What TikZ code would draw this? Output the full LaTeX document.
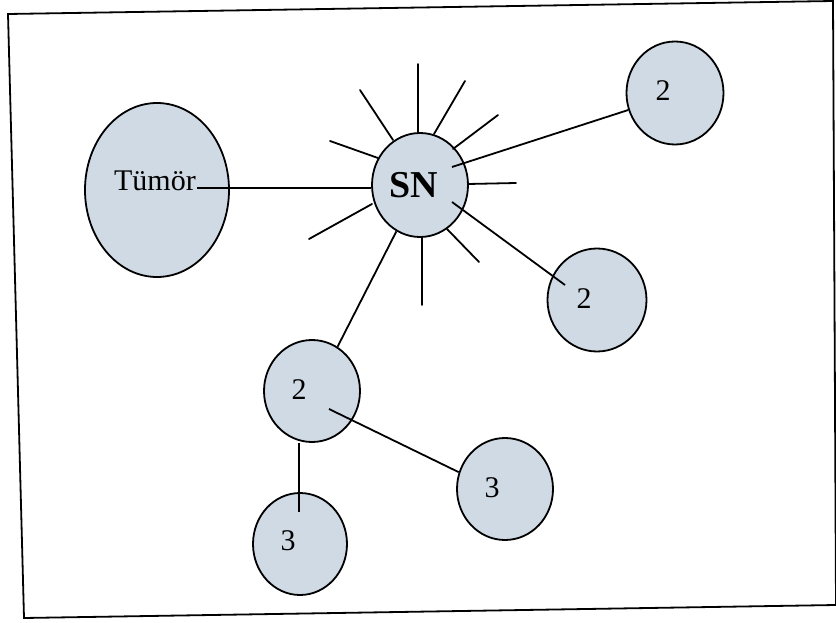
\documentclass[tikz,border=0pt]{standalone}
\usepackage{fontspec}
\setmainfont{Liberation Serif}
\usetikzlibrary{shapes.geometric,calc}
\definecolor{cellfill}{RGB}{208,218,229}
\tikzset{
  cell/.style={ellipse, draw=black, line width=1.8pt, fill=cellfill, inner sep=0pt},
  lbl/.style={font=\fontsize{30}{32}\selectfont, inner sep=0pt},
  ray/.style={line width=1.8pt, line cap=round},
  link/.style={line width=1.8pt},
}
\begin{document}
\begin{tikzpicture}[x=1pt,y=-1pt]
\useasboundingbox (0,0) rectangle (836,623);
% frame
\draw[line width=1.8pt] (8,14) -- (833,1) -- (836,605) -- (24,618) -- cycle;

% nodes
\node[cell, minimum width=144pt, minimum height=174pt] (tumor) at (157,190) {};
\node[cell, minimum width=96pt, minimum height=104pt] (sn) at (420,185) {};
\node[cell, minimum width=97pt, minimum height=103pt] (n2a) at (675,93) {};
\node[cell, minimum width=99pt, minimum height=103pt] (n2b) at (597,300) {};
\node[cell, minimum width=96pt, minimum height=102pt] (n2c) at (312,391) {};
\node[cell, minimum width=96pt, minimum height=102pt] (n3a) at (505,489) {};
\node[cell, minimum width=94pt, minimum height=102pt] (n3b) at (300,544) {};

% labels
\node[lbl, anchor=base east] (tumortxt) at (196,190) {Tümör};
\node[lbl, font=\fontsize{38}{40}\selectfont\bfseries] (sntxt) at (414,185) {SN};
\node[lbl] (t2a) at (663,91) {2};
\node[lbl] (t2b) at (584,299) {2};
\node[lbl] (t2c) at (299,390) {2};
\node[lbl] (t3a) at (492,488) {3};
\node[lbl] (t3b) at (288,541) {3};

% rays of SN
\draw[ray] (418,133) -- (418,64);
\draw[ray] (434,134) -- (465,81);
\draw[ray] (453,149) -- (498,115);
\draw[ray] (468,184) -- (516,183);
\draw[ray] (447,229) -- (479,262);
\draw[ray] (422,237) -- (422,305);
\draw[ray] (372,204) -- (309,239);
\draw[ray] (378,158) -- (330,141);
\draw[ray] (393,140) -- (360,90);

% connectors
\coordinate (tumorend) at (197,188);
\draw[link] (tumorend) -- (sn.west |- tumorend);
\coordinate (snA) at (452,167);
\draw[link] (snA) -- (n2a.200);
\coordinate (snB) at (452,202);
\coordinate (n2bin) at (565,285);
\draw[link] (snB) -- (n2bin);
\draw[link] (sn.243) -- (n2c.60);
\coordinate (n2cin) at (329,409);
\draw[link] (n2cin) -- (n3a.160);
\coordinate (n3bin) at (299,512);
\draw[link] (n2c.south -| n3bin) -- (n3bin);
\end{tikzpicture}
\end{document}
